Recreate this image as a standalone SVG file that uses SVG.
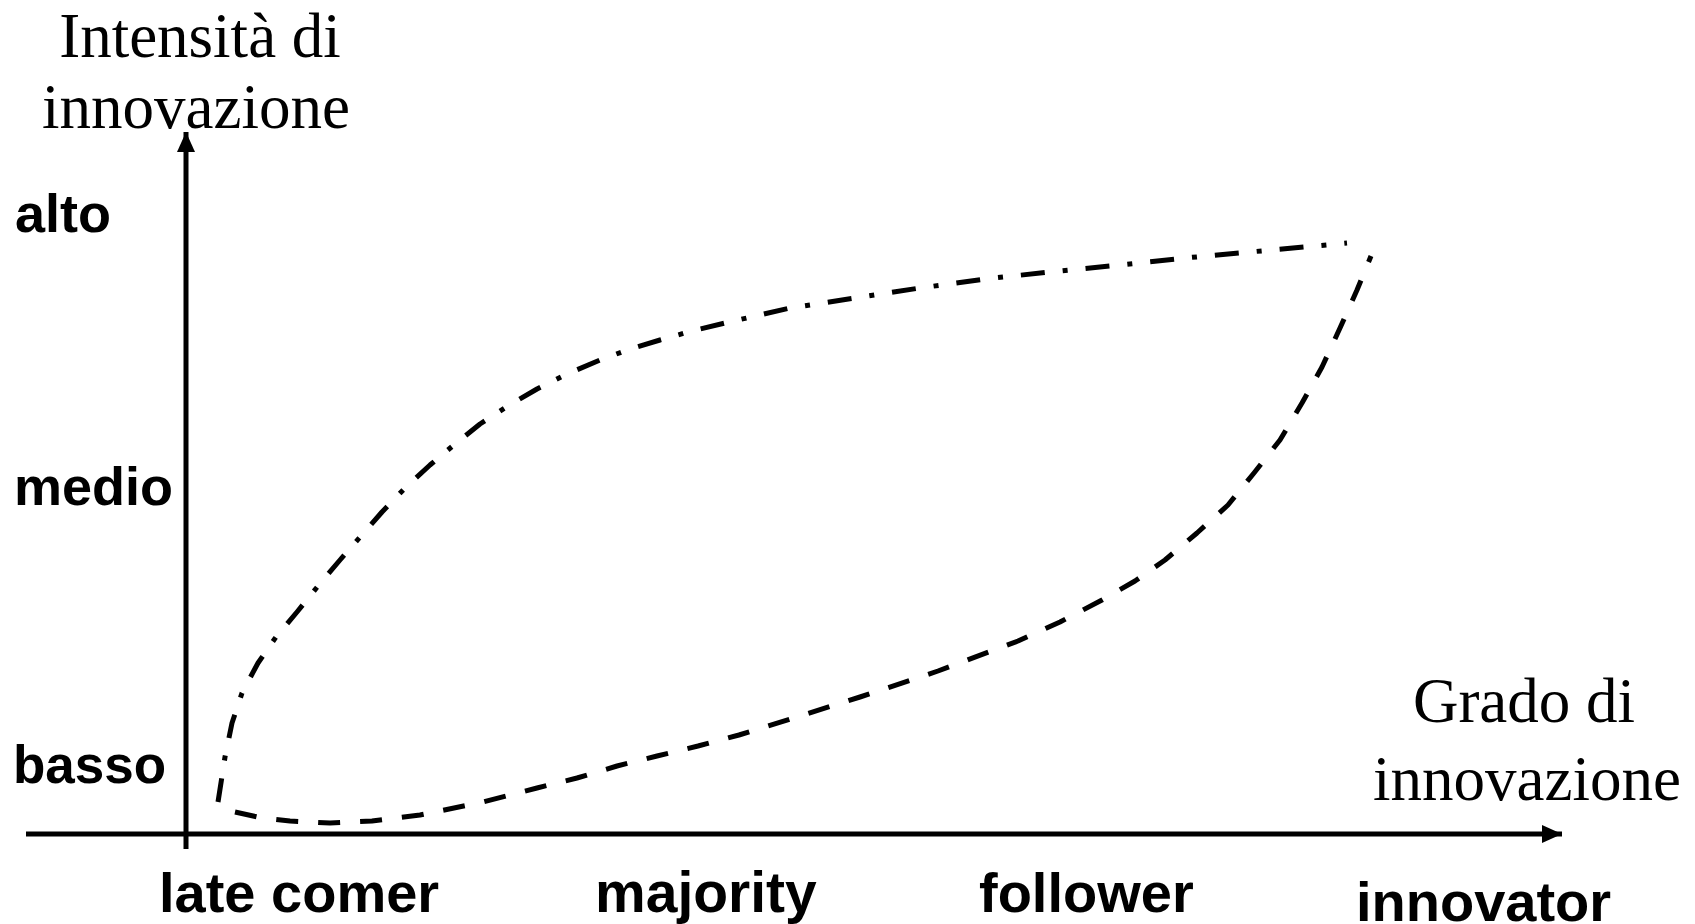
<svg xmlns="http://www.w3.org/2000/svg" width="1695" height="924" viewBox="0 0 1695 924">
  <style>
    .ser { font-family: "Liberation Serif", "Times New Roman", serif; font-size: 62px; fill: #000; }
    .lab { font-family: "Liberation Sans", Arial, sans-serif; font-weight: bold; font-size: 54px; fill: #000; }
    .axis { stroke: #000; stroke-width: 5; fill: none; }
    .dashdot { stroke: #000; stroke-width: 5; fill: none; stroke-dasharray: 24 18 5 18; stroke-linejoin: round; }
    .dash { stroke: #000; stroke-width: 5; fill: none; stroke-dasharray: 22 20; stroke-linejoin: round; }
  </style>
  <defs>
    <marker id="arr" markerUnits="userSpaceOnUse" viewBox="0 0 20 18" markerWidth="20" markerHeight="18" refX="20" refY="9" orient="auto">
      <path d="M0,0 L20,9 L0,18 Z" fill="#000"/>
    </marker>
  </defs>
  <rect width="1695" height="924" fill="#fff"/>
  <g id="connectors">
    <line class="axis" x1="186" y1="849" x2="186" y2="132" marker-end="url(#arr)"/>
    <line class="axis" x1="26" y1="834" x2="1562" y2="834" marker-end="url(#arr)"/>
    <path id="curve-upper" class="dashdot" d="M218,802 L225,757 L232,723 L242,693 L258,663 L276,637 L297,612 L318,586 L340,560 L361,536 L382,512 L405,488 L430,465 L455,444 L480,424 L508,406 L537,389 L567,374 L600,360 L630,349 L660,340 L692,331 L725,323 L790,308 L855,298 L920,288 L985,279 L1050,272 L1120,265 L1185,258 L1250,252 L1315,246 L1347,243"/>
    <path id="curve-lower" class="dash" d="M235,812 L262,818 L290,821 L330,823 L372,821 L420,815 L483,802 L537,788 L577,778 L617,766 L657,756 L698,746 L739,735 L800,716 L860,697 L938,671 L1018,641 L1060,622 L1102,600 L1135,581 L1165,560 L1197,533 L1228,505 L1254,473 L1280,440 L1302,403 L1322,367 L1340,328 L1357,290 L1371,256"/>
  </g>
  <g id="y-axis-title">
    <text class="ser" x="200" y="57" text-anchor="middle" style="font-size:63px">Intensità di</text>
    <text class="ser" x="196" y="128" text-anchor="middle" style="font-size:63px">innovazione</text>
  </g>
  <g id="x-axis-title">
    <text class="ser" x="1524" y="722" text-anchor="middle" style="font-size:63px">Grado di</text>
    <text class="ser" x="1527" y="800" text-anchor="middle" style="font-size:63px">innovazione</text>
  </g>
  <g id="y-labels">
    <text class="lab" x="15" y="232">alto</text>
    <text class="lab" x="14" y="505">medio</text>
    <text class="lab" x="13" y="783" style="font-size:53px">basso</text>
  </g>
  <g id="x-labels">
    <text class="lab" x="159" y="912" style="font-size:56px">late comer</text>
    <text class="lab" x="595" y="912" style="font-size:57px">majority</text>
    <text class="lab" x="979" y="912" style="font-size:56px">follower</text>
    <text class="lab" x="1356" y="921" style="font-size:56px">innovator</text>
  </g>
</svg>
